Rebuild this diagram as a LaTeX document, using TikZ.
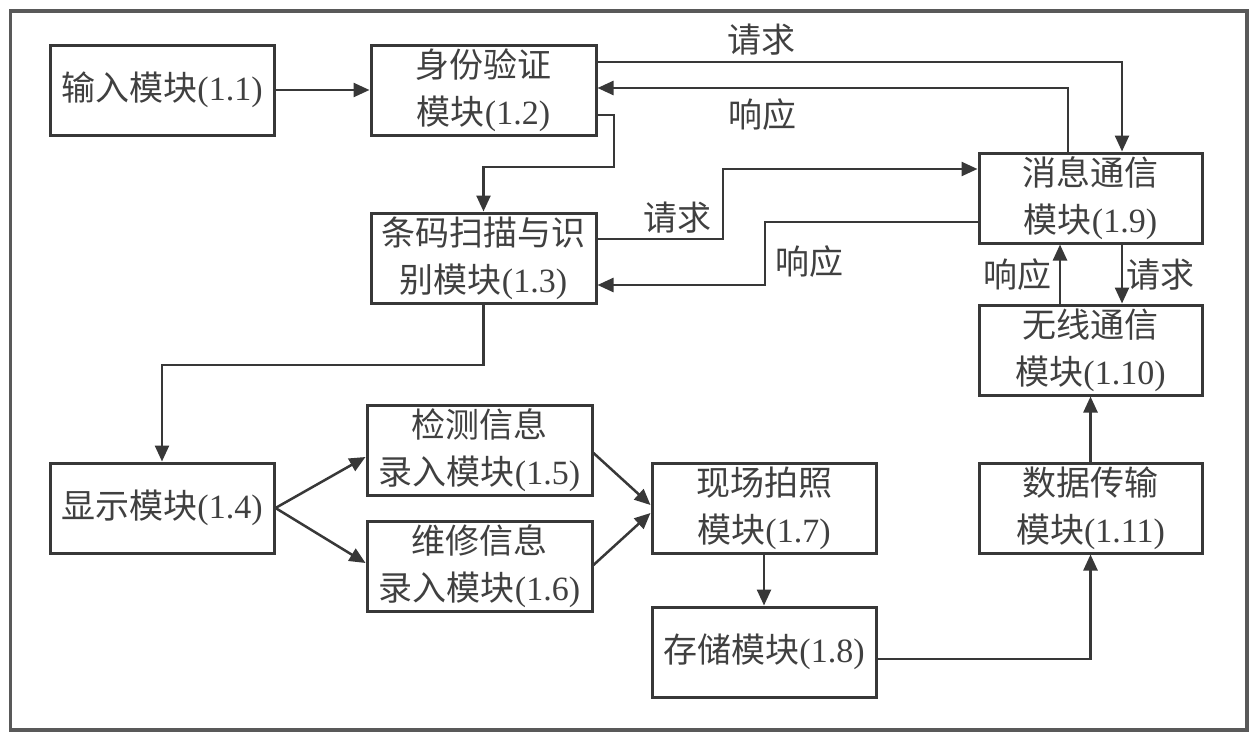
\documentclass[tikz,border=0pt]{standalone}
\usepackage{fontspec}
\setmainfont{Liberation Serif}
\newfontfamily\cjk{Noto Sans CJK SC}
\usetikzlibrary{arrows.meta}
\newcommand{\zh}[1]{{\cjk #1}}
\begin{document}
\begin{tikzpicture}[x=1pt,y=-1pt,
  box/.style={draw=black!78, line width=3pt, minimum width=224pt, minimum height=90pt,
    inner sep=0pt, align=center, font=\fontsize{34}{47}\selectfont, text=black!75},
  lbl/.style={font=\fontsize{34}{40}\selectfont, text=black!75, inner sep=0pt},
  conn/.style={draw=black!78, line width=2.5pt, -{Triangle[length=16pt,width=14pt]}}]
\useasboundingbox (0,0) rectangle (1256,736);
\fill[white] (0,0) rectangle (1256,736);
\draw[line width=3.5pt, black!65] (10.5,11) rectangle (1247,730);

\node[box] (n11) at (162,90) {\zh{输入模块}(1.1)};
\node[box, minimum width=225pt] (n12) at (483.5,90) {\zh{身份验证}\\\zh{模块}(1.2)};
\node[box, minimum width=225pt] (n13) at (483.5,258) {\zh{条码扫描与识}\\\zh{别模块}(1.3)};
\node[box] (n14) at (162,508) {\zh{显示模块}(1.4)};
\node[box, minimum width=225pt] (n15) at (479.5,450.5) {\zh{检测信息}\\\zh{录入模块}(1.5)};
\node[box, minimum width=225pt] (n16) at (479.5,566.5) {\zh{维修信息}\\\zh{录入模块}(1.6)};
\node[box] (n17) at (764,508) {\zh{现场拍照}\\\zh{模块}(1.7)};
\node[box] (n18) at (764,652) {\zh{存储模块}(1.8)};
\node[box, minimum width=223pt] (n19) at (1090.5,198) {\zh{消息通信}\\\zh{模块}(1.9)};
\node[box, minimum width=223pt] (n110) at (1090.5,350) {\zh{无线通信}\\\zh{模块}(1.10)};
\node[box, minimum width=223pt] (n111) at (1090.5,508) {\zh{数据传输}\\\zh{模块}(1.11)};

\node[lbl] (l1) at (761,40) {\zh{请求}};
\node[lbl] (l2) at (762,115) {\zh{响应}};
\node[lbl] (l3) at (677,218) {\zh{请求}};
\node[lbl] (l4) at (809,262) {\zh{响应}};
\node[lbl] (l5) at (1017,275) {\zh{响应}};
\node[lbl] (l6) at (1160,275) {\zh{请求}};

\draw[conn] (n11) -- (n12);
\draw[conn] (n12.east |- 0,62) -| ([xshift=31.5pt]n19.north);
\draw[conn] ([xshift=-22.5pt]n19.north) |- (n12.east |- 0,88);
\draw[conn] (n12.east |- 0,115) -- (614,115) -- (614,167) -| (n13.north);
\draw[conn] (n13.east |- 0,239) -- (723,239) |- (n19.west |- 0,169);
\draw[conn] (n19.west |- 0,222) -- (765,222) |- (n13.east |- 0,285);
\draw[conn] (n13.south) -- (483.5,365) -| (n14.north);
\draw[conn] (n14.east) -- (n15.west |- 0,457);
\draw[conn] (n14.east) -- (n16.west |- 0,563);
\draw[conn] (n15.east |- 0,453) -- (n17.west |- 0,505);
\draw[conn] (n16.east |- 0,565) -- (n17.west |- 0,513);
\draw[conn] (n17) -- (n18);
\draw[conn] ([yshift=-7pt]n18.east) -| (n111.south);
\draw[conn] (n111) -- (n110);
\draw[conn] ([xshift=-30.5pt]n110.north) -- ([xshift=-30.5pt]n19.south);
\draw[conn] ([xshift=31.5pt]n19.south) -- ([xshift=31.5pt]n110.north);
\end{tikzpicture}
\end{document}
